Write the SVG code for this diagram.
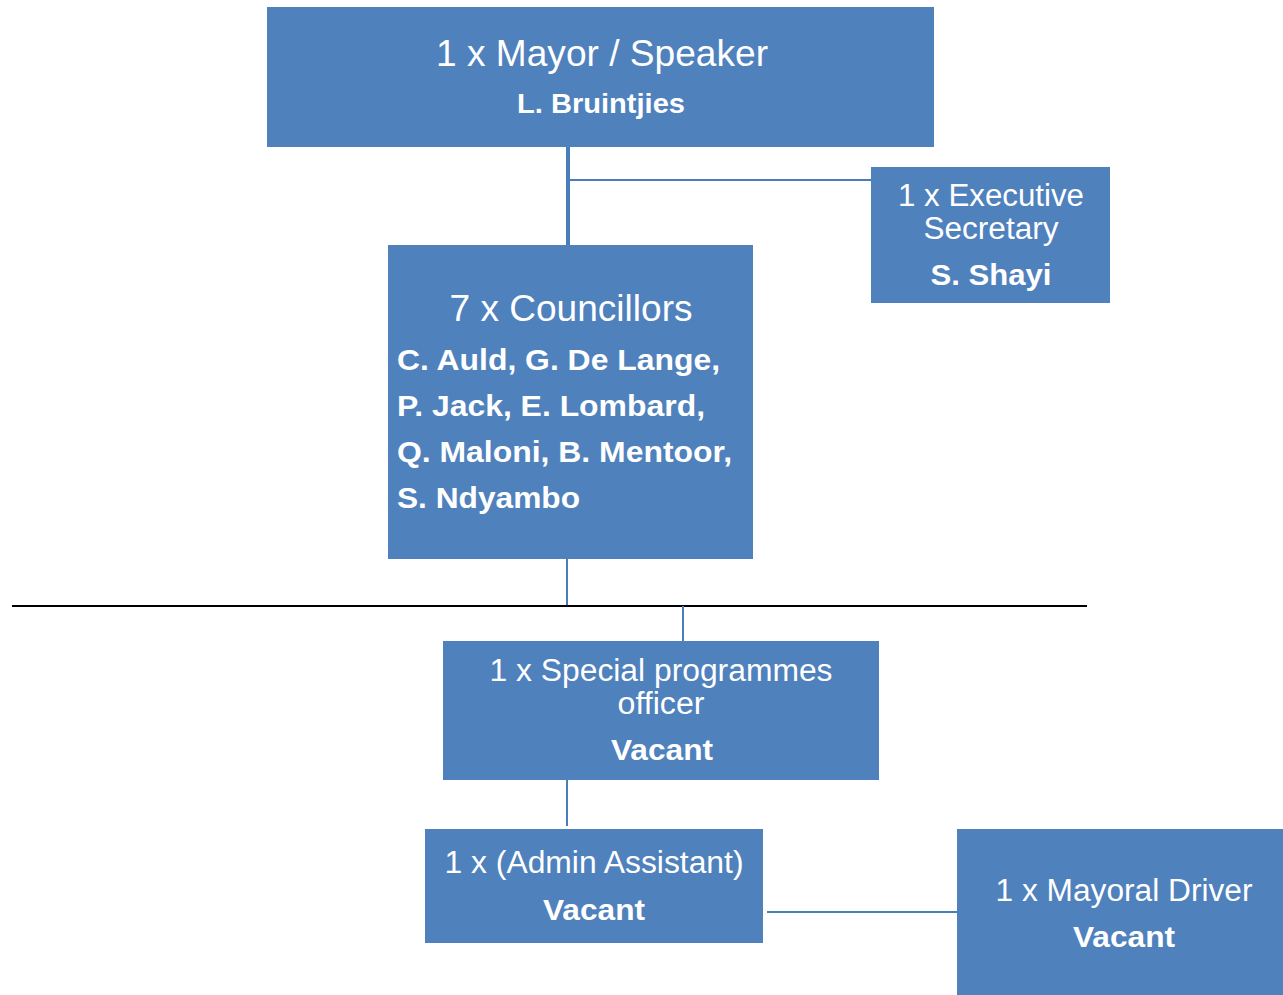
<svg xmlns="http://www.w3.org/2000/svg" width="1283" height="995" viewBox="0 0 1283 995">
  <style>
    .box { fill: #4F81BD; }
    .t { font-family: "Liberation Sans", Arial, sans-serif; fill: #FFFFFF; }
    .c { text-anchor: middle; }
    .b { font-weight: bold; }
    .link { stroke: #4A7EBB; fill: none; }
  </style>
  <rect width="1283" height="995" fill="#FFFFFF"/>

  <!-- connectors -->
  <g id="connectors">
    <line class="link" x1="568" y1="122" x2="568" y2="245" stroke-width="4"/>
    <line class="link" x1="568" y1="180" x2="883" y2="180" stroke-width="2"/>
    <line class="link" x1="567" y1="552" x2="567" y2="606" stroke-width="2"/>
    <line x1="12" y1="606" x2="1087" y2="606" stroke="#000000" stroke-width="2"/>
    <line class="link" x1="683" y1="606" x2="683" y2="648" stroke-width="2"/>
    <line class="link" x1="567" y1="768" x2="567" y2="826" stroke-width="2"/>
    <line class="link" x1="767" y1="912" x2="962" y2="912" stroke-width="2"/>
  </g>

  <g id="mayor">
    <rect class="box" x="267" y="7" width="667" height="140"/>
    <text class="t c" x="602" y="66" font-size="36" textLength="332" lengthAdjust="spacingAndGlyphs">1 x Mayor / Speaker</text>
    <text class="t c b" x="601" y="113" font-size="28" textLength="168" lengthAdjust="spacingAndGlyphs">L. Bruintjies</text>
  </g>

  <g id="secretary">
    <rect class="box" x="871" y="167" width="239" height="136"/>
    <text class="t c" x="991" y="206" font-size="31" textLength="186" lengthAdjust="spacingAndGlyphs">1 x Executive</text>
    <text class="t c" x="991" y="239" font-size="31" textLength="135" lengthAdjust="spacingAndGlyphs">Secretary</text>
    <text class="t c b" x="991" y="285" font-size="30" textLength="121" lengthAdjust="spacingAndGlyphs">S. Shayi</text>
  </g>

  <g id="councillors">
    <rect class="box" x="388" y="245" width="365" height="314"/>
    <text class="t c" x="571" y="321" font-size="36" textLength="243" lengthAdjust="spacingAndGlyphs">7 x Councillors</text>
    <text class="t b" x="397" y="370" font-size="30" textLength="323" lengthAdjust="spacingAndGlyphs">C. Auld, G. De Lange,</text>
    <text class="t b" x="397" y="416" font-size="30" textLength="308" lengthAdjust="spacingAndGlyphs">P. Jack, E. Lombard,</text>
    <text class="t b" x="397" y="462" font-size="30" textLength="335" lengthAdjust="spacingAndGlyphs">Q. Maloni, B. Mentoor,</text>
    <text class="t b" x="397" y="508" font-size="30" textLength="183" lengthAdjust="spacingAndGlyphs">S. Ndyambo</text>
  </g>

  <g id="special-programmes">
    <rect class="box" x="443" y="641" width="436" height="139"/>
    <text class="t c" x="661" y="681" font-size="31" textLength="343" lengthAdjust="spacingAndGlyphs">1 x Special programmes</text>
    <text class="t c" x="661" y="714" font-size="31" textLength="87" lengthAdjust="spacingAndGlyphs">officer</text>
    <text class="t c b" x="662" y="760" font-size="30" textLength="102" lengthAdjust="spacingAndGlyphs">Vacant</text>
  </g>

  <g id="admin-assistant">
    <rect class="box" x="425" y="829" width="338" height="114"/>
    <text class="t c" x="594" y="873" font-size="31" textLength="299" lengthAdjust="spacingAndGlyphs">1 x (Admin Assistant)</text>
    <text class="t c b" x="594" y="920" font-size="30" textLength="102" lengthAdjust="spacingAndGlyphs">Vacant</text>
  </g>

  <g id="mayoral-driver">
    <rect class="box" x="957" y="829" width="326" height="166"/>
    <text class="t c" x="1124" y="901" font-size="31" textLength="257" lengthAdjust="spacingAndGlyphs">1 x Mayoral Driver</text>
    <text class="t c b" x="1124" y="947" font-size="30" textLength="102" lengthAdjust="spacingAndGlyphs">Vacant</text>
  </g>
</svg>
